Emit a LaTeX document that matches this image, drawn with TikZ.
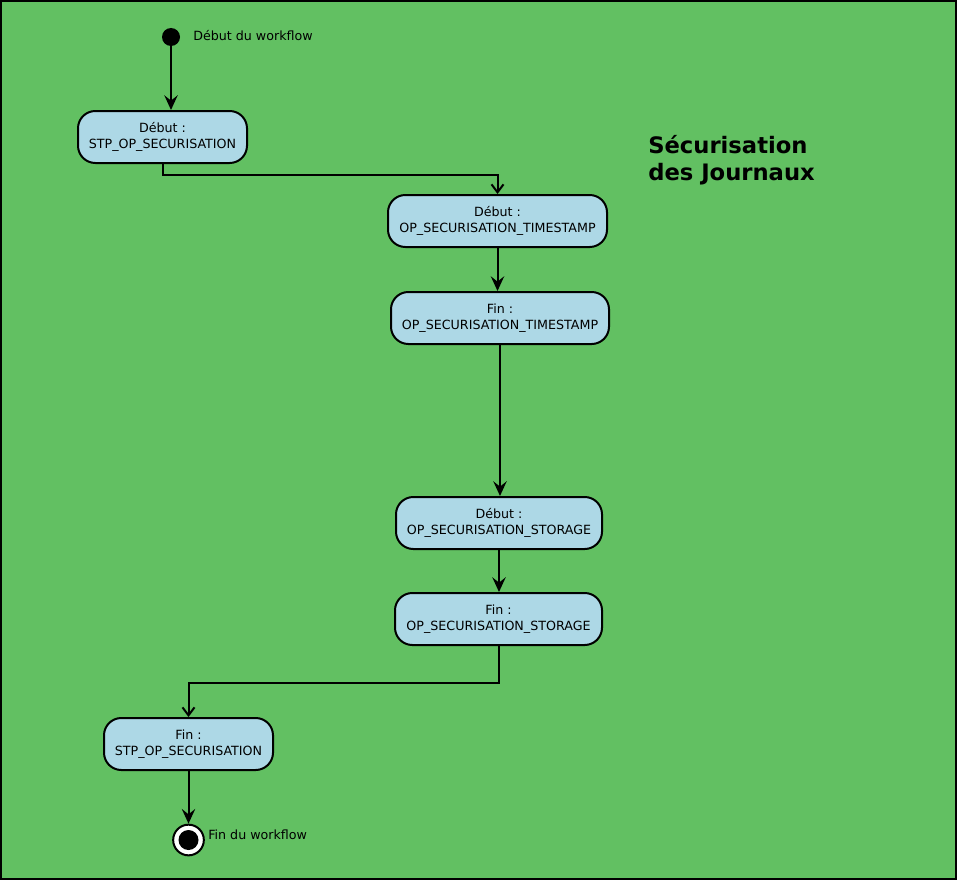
\documentclass[tikz,border=0pt]{standalone}
\usepackage{fontspec}
\setmainfont{DejaVu Sans}
\usetikzlibrary{arrows.meta}
\definecolor{bggreen}{RGB}{98,192,98}
\definecolor{actblue}{RGB}{173,216,230}
\begin{document}
\begin{tikzpicture}[x=0.75pt,y=-0.75pt,
  act/.style={draw=black,line width=1.5pt,fill=actblue,rounded corners=13pt,
    minimum height=39pt,align=center,inner sep=0pt,font=\fontsize{9.5pt}{12pt}\selectfont},
  lbl/.style={anchor=west,inner sep=0pt,font=\fontsize{9.5pt}{12pt}\selectfont},
  flow/.style={line width=1.5pt,-{Stealth[length=11pt,width=10pt,inset=4pt]}},
  elbow/.style={line width=1.5pt,-{Straight Barb[length=6pt,width=9pt]}}]
\useasboundingbox (0,0) rectangle (959,881);
\fill[white] (0,0) rectangle (959,881);
\draw[line width=1.5pt,fill=bggreen] (1,1) rectangle (956,879);

\node[circle,fill=black,minimum size=13.5pt,inner sep=0pt] (start) at (171,37) {};
\node[lbl] (startlbl) at (193,36) {Début du workflow};

\node[act,minimum width=126.75pt] (n1) at (162.5,137) {Début :\\STP\_OP\_SECURISATION};
\node[act,minimum width=164.25pt] (n2) at (497.5,221) {Début :\\OP\_SECURISATION\_TIMESTAMP};
\node[act,minimum width=163.5pt] (n3) at (500,318) {Fin :\\OP\_SECURISATION\_TIMESTAMP};
\node[act,minimum width=154.5pt] (n4) at (499,523) {Début :\\OP\_SECURISATION\_STORAGE};
\node[act,minimum width=155.25pt] (n5) at (498.5,619) {Fin :\\OP\_SECURISATION\_STORAGE};
\node[act,minimum width=126.75pt] (n6) at (188.5,744) {Fin :\\STP\_OP\_SECURISATION};

\node[circle,draw=black,line width=1.5pt,fill=white,minimum size=23pt,inner sep=0pt] (endc) at (188.5,840) {};
\node[circle,fill=black,minimum size=15pt,inner sep=0pt] (enddot) at (endc.center) {};
\node[lbl] (endlbl) at (208,835) {Fin du workflow};

\node[anchor=west,align=left,inner sep=0pt,font=\fontsize{17pt}{20.25pt}\selectfont\bfseries] (title) at (648,160) {Sécurisation\\des Journaux};

\draw[flow] (start) -- (start |- n1.north);
\draw[elbow] (n1.south) -- ++(0,11) -| (n2.north);
\draw[flow] (n2.south) -- (n2.south |- n3.north);
\draw[flow] (n3.south) -- (n3.south |- n4.north);
\draw[flow] (n4.south) -- (n4.south |- n5.north);
\draw[elbow] (n5.south) -- ++(0,37) -| (n6.north);
\draw[flow] (n6.south) -- (n6.south |- endc.north);
\end{tikzpicture}
\end{document}
